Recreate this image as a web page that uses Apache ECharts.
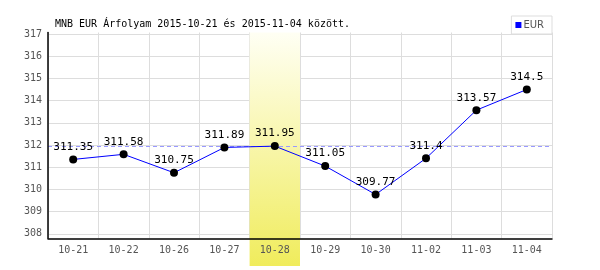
<!DOCTYPE html>
<html><head><meta charset="utf-8">
<script src="https://cdn.jsdelivr.net/npm/echarts@6/dist/echarts.min.js"></script>
<style>html,body{margin:0;padding:0;background:#fff}#c{width:600px;height:270px}</style>
</head><body><div id="c"></div>
<script>
const categories = ['10-21','10-22','10-26','10-27','10-28','10-29','10-30','11-02','11-03','11-04'];
const eurValues = [311.35,311.58,310.75,311.89,311.95,311.05,309.77,311.4,313.57,314.5];
const yTicks = [308,309,310,311,312,313,314,315,316,317];
const highlightDate = '10-28';
const referenceValue = 311.95;
const titleText = 'MNB EUR Árfolyam 2015-10-21 és 2015-11-04 között.';
const seriesName = 'EUR';

const mono = 'DejaVu Sans Mono';
const chart = echarts.init(document.getElementById('c'), null, {renderer:'canvas'});
const highlightData = categories.map(c => c === highlightDate ? 1 : null);

chart.setOption({
  animation: false,
  backgroundColor: '#fff',
  title: {text: titleText, left: 50, top: 14, textStyle: {fontFamily: mono, fontSize: 10, fontWeight: 'normal', color: '#000'}},
  legend: {
    right: 48, top: 16, orient: 'vertical',
    borderColor: '#ddd', borderWidth: 1, padding: [4, 8, 4, 4],
    itemWidth: 6, itemHeight: 6, itemGap: 4,
    icon: 'rect',
    textStyle: {fontFamily: 'DejaVu Sans', fontSize: 10, color: '#555', padding: [0,0,0,-3]},
    data: [{name: seriesName, itemStyle: {color: '#0000ff'}}]
  },
  grid: [
    {left: 48, right: 48, top: 34, bottom: 36.2},
    {left: 48, right: 48, top: 32.5, bottom: 31.7},
    {left: 48, right: 48, top: 32.5, bottom: 4}
  ],
  xAxis: [
    {type: 'category', gridIndex: 0, data: categories, offset: 4.5, z: 5,
     axisLine: {show: true, lineStyle: {color: '#000', width: 1.5}},
     axisTick: {show: false}, splitLine: {show: false},
     axisLabel: {fontFamily: mono, fontSize: 10, color: '#555', margin: 7}},
    {type: 'category', gridIndex: 1, data: categories, z: 0,
     axisLine: {show: false}, axisTick: {show: false}, axisLabel: {show: false},
     splitLine: {show: true, interval: 0, lineStyle: {color: '#ddd', width: 1}}},
    {type: 'category', gridIndex: 2, data: categories, show: false}
  ],
  yAxis: [
    {type: 'value', gridIndex: 0, min: yTicks[0], max: yTicks[yTicks.length-1], interval: 1, z: 0,
     axisLine: {show: false}, axisTick: {show: false},
     axisLabel: {fontFamily: mono, fontSize: 10, color: '#555', margin: 6},
     splitLine: {show: true, lineStyle: {color: '#ddd', width: 1}}},
    {type: 'value', gridIndex: 1, min: 0, max: 1, z: 5,
     axisLine: {show: true, lineStyle: {color: '#000', width: 1.5}},
     axisTick: {show: false}, axisLabel: {show: false}, splitLine: {show: false}},
    {type: 'value', gridIndex: 2, min: 0, max: 1, show: false}
  ],
  series: [
    {type: 'bar', xAxisIndex: 2, yAxisIndex: 2, data: highlightData, barWidth: '100%', z: 1, silent: true,
     itemStyle: {color: new echarts.graphic.LinearGradient(0,0,0,1,[{offset:0,color:'#fffff4'},{offset:1,color:'#f0ec5c'}])}},
    {type: 'line', name: seriesName, xAxisIndex: 0, yAxisIndex: 0, data: eurValues, z: 10,
     lineStyle: {color: '#0000ff', width: 1},
     symbol: 'circle', symbolSize: 8, itemStyle: {color: '#000'},
     label: {show: true, position: 'top', distance: 3, fontFamily: mono, fontSize: 11, color: '#000'},
     markLine: {silent: true, symbol: 'none', label: {show: false},
       lineStyle: {color: '#9999ff', type: [4, 3], width: 1},
       data: [{yAxis: referenceValue}]}}
  ]
});
</script></body></html>
